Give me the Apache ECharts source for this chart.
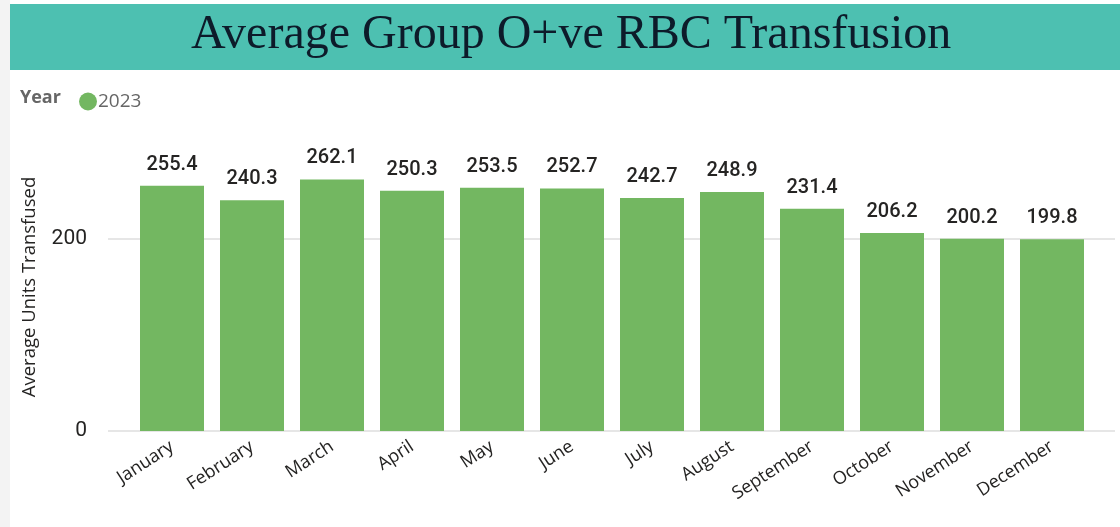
<!DOCTYPE html>
<html>
<head>
<meta charset="utf-8">
<script src="https://cdn.jsdelivr.net/npm/echarts@6/dist/echarts.min.js"></script>
<style>
    html, body { margin: 0; padding: 0; background: #ffffff; }
    #main { width: 1120px; height: 527px; }
</style>
</head>
<body>
<div id="main"></div>
<script>
    var months = ['January', 'February', 'March', 'April', 'May', 'June',
        'July', 'August', 'September', 'October', 'November', 'December'];
    var avgUnits = [255.4, 240.3, 262.1, 250.3, 253.5, 252.7, 242.7, 248.9, 231.4, 206.2, 200.2, 199.8];
    var yearName = '2023';

    var chart = echarts.init(document.getElementById('main'));
    chart.setOption({
        animation: false,
        graphic: [
            {type: 'rect', left: 0, top: 0, shape: {width: 10, height: 527}, style: {fill: '#f3f3f3'}, z: -1},
            {type: 'rect', left: 10, top: 4, shape: {width: 1110, height: 66}, style: {fill: '#4DC0B1'}, z: -1},
            {type: 'text', left: 20, top: 89, style: {text: 'Year', fill: '#666666', font: 'bold 18px "Open Sans"'}}
        ],
        title: {
            text: 'Average Group O+ve RBC Transfusion',
            left: 186,
            top: 6,
            textStyle: {
                fontFamily: 'Liberation Serif',
                fontWeight: 'normal',
                fontSize: 48,
                color: '#0d1b2a'
            }
        },
        legend: {
            left: 74,
            top: 87,
            icon: 'circle',
            itemWidth: 18,
            itemHeight: 18,
            itemGap: 4,
            textStyle: {color: '#666666', fontSize: 19, fontFamily: 'Open Sans', padding: [0, 0, 0, -4]},
            data: [yearName]
        },
        grid: [
            {left: 132, right: 28, top: 143, bottom: 96},
            {left: 108, right: 5, top: 239, bottom: 96}
        ],
        xAxis: [{
            type: 'category',
            gridIndex: 0,
            data: months,
            axisLine: {show: false},
            axisTick: {show: false},
            axisLabel: {
                rotate: 33,
                interval: 0,
                margin: 14,
                fontSize: 18,
                fontFamily: 'Open Sans',
                color: '#252423'
            }
        }, {
            type: 'value',
            gridIndex: 1,
            show: false,
            min: 0,
            max: 1
        }],
        yAxis: [{
            type: 'value',
            gridIndex: 0,
            min: 0,
            max: 300,
            interval: 200,
            name: 'Average Units Transfused',
            nameLocation: 'middle',
            nameGap: 93,
            nameTextStyle: {fontSize: 18.5, fontFamily: 'Open Sans', color: '#252423'},
            axisLabel: {show: false},
            axisLine: {show: false},
            axisTick: {show: false},
            splitLine: {show: false}
        }, {
            type: 'value',
            gridIndex: 1,
            min: 0,
            max: 200,
            interval: 200,
            axisLine: {show: false},
            axisTick: {show: false},
            axisLabel: {
                fontSize: 21,
                fontFamily: 'Roboto',
                color: '#252423',
                margin: 21
            },
            splitLine: {lineStyle: {color: '#e6e6e6', width: 2}}
        }],
        series: [{
            name: yearName,
            type: 'bar',
            xAxisIndex: 0,
            yAxisIndex: 0,
            data: avgUnits,
            barCategoryGap: '20%',
            itemStyle: {color: '#73B761'},
            z: 3,
            label: {
                show: true,
                position: 'top',
                distance: 11,
                fontSize: 20,
                fontFamily: 'Roboto',
                fontWeight: 500,
                color: '#252423',
                formatter: function (p) { return p.value.toFixed(1); }
            }
        }]
    });
</script>
</body>
</html>
